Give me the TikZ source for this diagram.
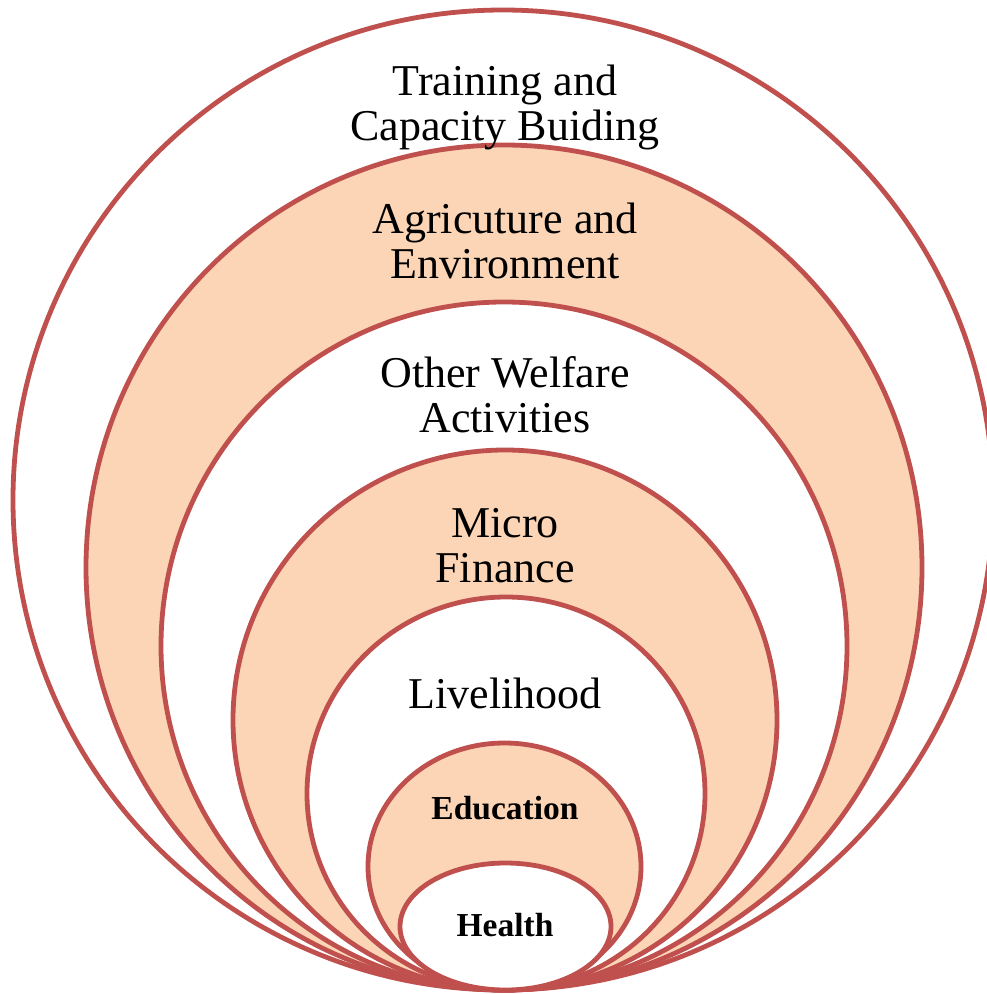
\documentclass[tikz,border=0pt]{standalone}
\usepackage{fontspec}
\setmainfont{Liberation Serif}
\definecolor{ringred}{HTML}{C0504D}
\definecolor{peach}{RGB}{251,213,181}
\tikzset{
  ring/.style={draw=ringred, line width=4.8pt},
  lbl/.style={align=center, text=black, font=\fontsize{44}{45}\selectfont, inner sep=0pt},
  blbl/.style={align=center, text=black, font=\fontsize{33.5}{36}\selectfont\bfseries, inner sep=0pt}
}
\begin{document}
\begin{tikzpicture}[x=1pt,y=-1pt]
\useasboundingbox (0,0) rectangle (987,994);
\clip (0,0) rectangle (987,994);
\fill[white] (0,0) rectangle (987,994);
% rings, outer to inner
\filldraw[ring, fill=white] (503,500) ellipse [x radius=490pt, y radius=490pt];
\filldraw[ring, fill=peach] (504,567.5) ellipse [x radius=418pt, y radius=422.5pt];
\filldraw[ring, fill=white] (504,646) ellipse [x radius=343pt, y radius=344pt];
\filldraw[ring, fill=peach] (505,720) ellipse [x radius=272pt, y radius=270pt];
\filldraw[ring, fill=white] (506,793.5) ellipse [x radius=199pt, y radius=196.5pt];
\filldraw[ring, fill=peach] (504.5,866.5) ellipse [x radius=136.5pt, y radius=123.5pt];
\filldraw[ring, fill=white] (505.5,926.5) ellipse [x radius=105.5pt, y radius=63.5pt];
% labels
\node[lbl] (training) at (505,107) {Training and\\Capacity Buiding};
\node[lbl] (agri) at (505,241) {Agricuture and\\Environment};
\node[lbl] (welfare) at (505,395) {Other Welfare\\Activities};
\node[lbl] (micro) at (505,546) {Micro\\Finance};
\node[lbl] (live) at (505,693) {Livelihood};
\node[blbl] (edu) at (505,808) {Education};
\node[blbl] (health) at (505,925) {Health};
\end{tikzpicture}
\end{document}
